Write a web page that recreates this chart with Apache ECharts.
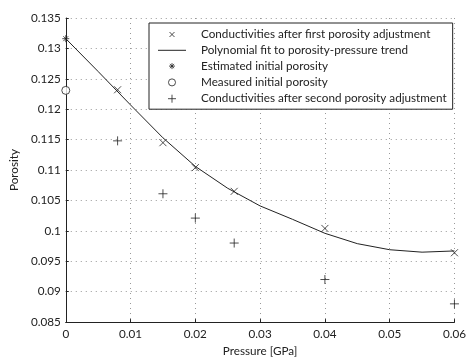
<!DOCTYPE html>
<html>
<head>
<meta charset="utf-8">
<script src="https://cdn.jsdelivr.net/npm/echarts@6/dist/echarts.min.js"></script>
<style>
  html, body { margin: 0; padding: 0; background: #fff; }
  #chart { width: 469px; height: 362px; }
</style>
</head>
<body>
<div id="chart"></div>
<script>
// Pressure [GPa] and porosity values
const pressureFirst = [0.008, 0.015, 0.020, 0.026, 0.040, 0.060];
const porosityFirst = [0.1232, 0.1145, 0.1104, 0.1065, 0.1004, 0.0964];

const fitPressure = [0, 0.005, 0.01, 0.015, 0.02, 0.025, 0.03, 0.035, 0.04, 0.045, 0.05, 0.055, 0.06];
const fitPorosity = [0.1316, 0.1262, 0.1207, 0.1153, 0.1106, 0.1070, 0.1041, 0.1019, 0.0996, 0.0979, 0.0969, 0.0965, 0.0967];

const estimatedPressure = [0];
const estimatedPorosity = [0.1316];

const measuredPressure = [0];
const measuredPorosity = [0.1231];

const pressureSecond = [0.008, 0.015, 0.020, 0.026, 0.040, 0.060];
const porositySecond = [0.1148, 0.1061, 0.1021, 0.0980, 0.0920, 0.0880];

const xTicks = { min: 0, max: 0.06, step: 0.01 };
const yTicks = { min: 0.085, max: 0.135, step: 0.005 };

const seriesNames = [
  'Conductivities after first porosity adjustment',
  'Polynomial fit to porosity-pressure trend',
  'Estimated initial porosity',
  'Measured initial porosity',
  'Conductivities after second porosity adjustment'
];

const zip = (xs, ys) => xs.map((x, i) => [x, ys[i]]);

const ink = '#222';
const FONT = 'Lato';
const FS = 11.7;

// marker glyphs
const crossPath = 'path://M0,0L10,10M10,0L0,10';
const plusPath = 'path://M5,0L5,10M0,5L10,5';
const starPath = 'path://M0,5L10,5M5,0L5,10M1.5,1.5L8.5,8.5M1.5,8.5L8.5,1.5';

// legend glyphs: invisible corner points widen the bounding box so the glyph stays small
const box = (lo, hi) => `M${lo},${lo}L${lo},${lo}M${hi},${hi}L${hi},${hi}`;
const crossIcon = 'path://' + box(-7, 17) + 'M0,0L10,10M10,0L0,10';
const plusIcon = 'path://' + box(-2.5, 12.5) + 'M5,0L5,10M0,5L10,5';
const starIcon = 'path://' + box(-5, 15) + 'M0,5L10,5M5,0L5,10M1.5,1.5L8.5,8.5M1.5,8.5L8.5,1.5';
const circleIcon = 'path://' + box(-3.5, 13.5) + 'M0,5A5,5,0,1,1,10,5A5,5,0,1,1,0,5Z';
const lineIcon = 'path://M0,0L0,0M38,1L38,1M5,0L33,0L33,1L5,1Z';

const strokeOnly = { color: 'none', borderColor: ink, borderWidth: 1 };

const chart = echarts.init(document.getElementById('chart'), null, { renderer: 'canvas' });

const gridLine = { show: true, lineStyle: { color: '#999', type: [1, 4], width: 1 } };

chart.setOption({
  animation: false,
  backgroundColor: '#fff',
  textStyle: { fontFamily: FONT },
  grid: { left: 60, right: 11, top: 18, bottom: 31, containLabel: false },
  xAxis: {
    type: 'value',
    min: xTicks.min, max: xTicks.max, interval: xTicks.step,
    name: 'Pressure [GPa]', nameLocation: 'middle', nameGap: 17,
    nameTextStyle: { color: ink, fontSize: FS, fontFamily: FONT },
    axisLine: { show: true, lineStyle: { color: ink, width: 1 } },
    axisTick: { show: true, inside: true, length: 3, lineStyle: { color: ink } },
    axisLabel: { color: ink, fontSize: FS, fontFamily: FONT, margin: 6,
      formatter: v => String(+v.toFixed(3)) },
    splitLine: gridLine
  },
  yAxis: {
    type: 'value',
    min: yTicks.min, max: yTicks.max, interval: yTicks.step,
    name: 'Porosity', nameLocation: 'middle', nameGap: 42, nameRotate: 90,
    nameTextStyle: { color: ink, fontSize: FS, fontFamily: FONT },
    axisLine: { show: true, lineStyle: { color: ink, width: 1 } },
    axisTick: { show: true, inside: true, length: 3, lineStyle: { color: ink } },
    axisLabel: { color: ink, fontSize: FS, fontFamily: FONT, margin: 5,
      formatter: v => String(+v.toFixed(3)) },
    splitLine: gridLine
  },
  legend: {
    orient: 'vertical',
    left: 149, top: 23,
    padding: [3, 6, 2, 4],
    itemGap: 1.3,
    itemWidth: 38, itemHeight: 12,
    backgroundColor: '#fff',
    borderColor: ink, borderWidth: 1, borderRadius: 0,
    textStyle: { color: ink, fontSize: FS, fontFamily: FONT, padding: [0, 0, 0, 5] },
    data: [
      { name: seriesNames[0], icon: crossIcon, itemStyle: { color: 'none', borderColor: ink, borderWidth: 1 } },
      { name: seriesNames[1], icon: lineIcon, itemStyle: { color: ink, borderWidth: 0 } },
      { name: seriesNames[2], icon: starIcon, itemStyle: { color: 'none', borderColor: ink, borderWidth: 1 } },
      { name: seriesNames[3], icon: circleIcon, itemStyle: { color: '#fff', borderColor: ink, borderWidth: 1 } },
      { name: seriesNames[4], icon: plusIcon, itemStyle: { color: 'none', borderColor: ink, borderWidth: 1 } }
    ],
    selectedMode: false
  },
  series: [
    {
      name: seriesNames[0], type: 'scatter',
      symbol: crossPath, symbolSize: 7,
      itemStyle: strokeOnly,
      data: zip(pressureFirst, porosityFirst), clip: false, z: 3
    },
    {
      name: seriesNames[1], type: 'line',
      showSymbol: false, symbol: 'none', smooth: false,
      lineStyle: { color: ink, width: 1 },
      itemStyle: { color: ink },
      data: zip(fitPressure, fitPorosity), z: 2
    },
    {
      name: seriesNames[2], type: 'scatter',
      symbol: starPath, symbolSize: 7,
      itemStyle: strokeOnly,
      data: zip(estimatedPressure, estimatedPorosity), clip: false, z: 3
    },
    {
      name: seriesNames[3], type: 'scatter',
      symbol: 'circle', symbolSize: 8,
      itemStyle: { color: '#fff', borderColor: ink, borderWidth: 1 },
      data: zip(measuredPressure, measuredPorosity), clip: false, z: 3
    },
    {
      name: seriesNames[4], type: 'scatter',
      symbol: plusPath, symbolSize: 9,
      itemStyle: strokeOnly,
      data: zip(pressureSecond, porositySecond), clip: false, z: 3
    }
  ]
});
</script>
</body>
</html>
